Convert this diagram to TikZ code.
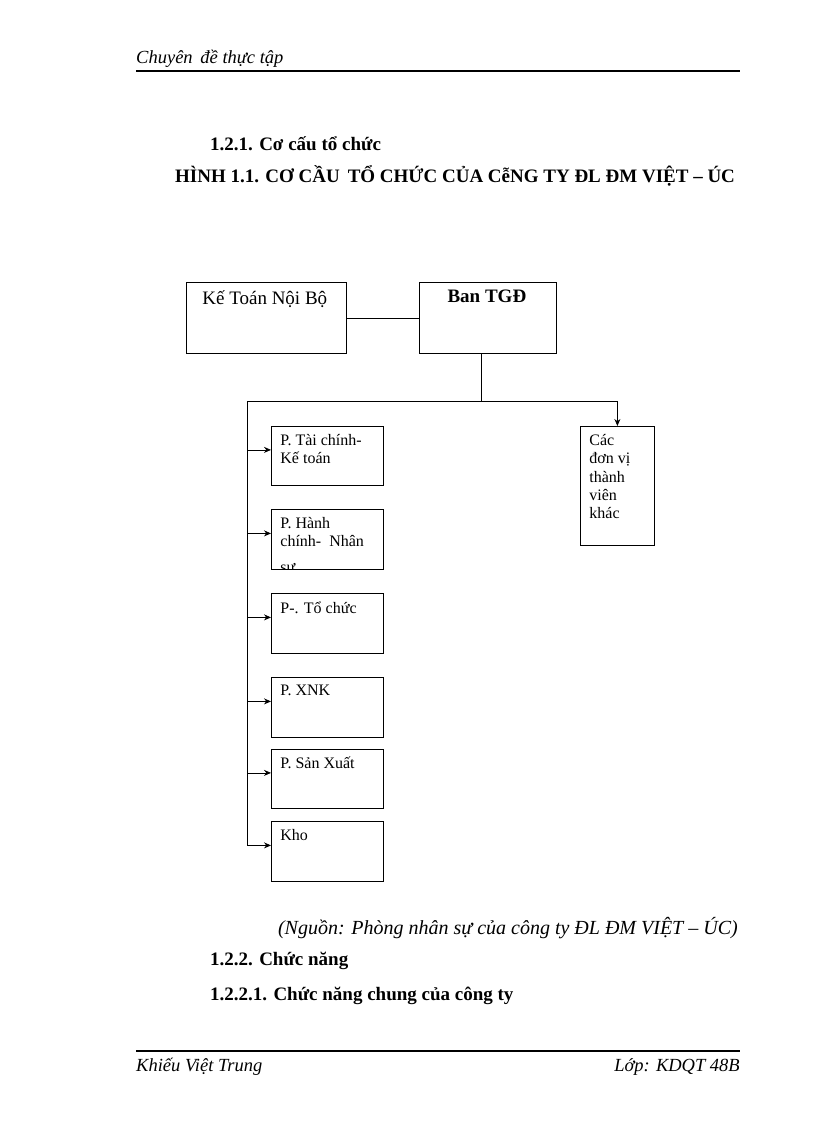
\documentclass[tikz,border=0pt]{standalone}
\usepackage{fontspec}
\setmainfont{Liberation Serif}
\usetikzlibrary{arrows.meta}

\tikzset{
  unitbox/.style={draw, line width=0.8pt, anchor=north west, inner sep=0pt, font=\fontsize{16}{18.3}\selectfont},
  topbox/.style={draw, line width=0.8pt, anchor=north west, inner sep=0pt, font=\fontsize{19}{22}\selectfont},
  heading/.style={anchor=base west, inner sep=0pt, font=\fontsize{19}{22}\selectfont\bfseries},
  pagetext/.style={inner sep=0pt, font=\fontsize{18.5}{22}\selectfont\itshape},
  arr/.style={-{Stealth[length=7pt,width=6pt]}, line width=0.8pt},
  link/.style={line width=0.8pt}
}
% box with text at its top left corner
\newcommand{\boxtext}[3]{\parbox[t][#2pt][t]{#1pt}{\hspace*{9pt}\parbox[t]{\dimexpr#1pt-11pt}{\vspace*{8pt}#3}}}

\begin{document}
\begin{tikzpicture}[x=1pt,y=-1pt]
    \useasboundingbox (0,0) rectangle (816,1123);

    % Header and footer
    \node[pagetext, anchor=base west] (hdr) at (136,64) {Chuyên\, đề thực tập};
    \draw[line width=2.2pt] (136,71) -- (740,71);
    \draw[line width=2.2pt] (136,1051) -- (740,1051);
    \node[pagetext, anchor=base west] (ftl) at (136,1071) {Khiếu Việt Trung};
    \node[pagetext, anchor=base east] (ftr) at (740,1071) {Lớp: KDQT 48B};

    % Titles
    \node[heading] (sec) at (210,151) {1.2.1. Cơ cấu tổ chức};
    \node[heading] (fig) at (175,183) {HÌNH 1.1. CƠ CẦU\, TỔ CHỨC CỦA CễNG TY ĐL ĐM VIỆT – ÚC};

    % Top level
    \node[topbox] (ktnb) at (186,282) {\boxtext{160}{71}{\hspace*{7pt}Kế Toán Nội Bộ}};
    \node[topbox] (tgd) at (419,282) {\boxtext{137}{71}{\centering\hspace*{-9pt}\bfseries Ban TGĐ}};
    \draw[link] (ktnb.east) -- (tgd.west);

    % Units
    \node[unitbox] (dv) at (580,426) {\boxtext{74}{119}{Các\\đơn vị\\thành\\viên\\khác}};
    \node[unitbox] (tckt) at (271,426) {\boxtext{112}{59}{P. Tài chính-\\Kế toán}};
    \begin{scope}
        \clip (269,507) rectangle (385,569.4);
        \node[unitbox] (hcns) at (271,509) {\boxtext{112}{60}{P. Hành\\chính-\ \ Nhân\\[7pt]sự}};
    \end{scope}
    \node[unitbox] (tc) at (271,593) {\boxtext{112}{60}{P-. Tổ chức}};
    \node[unitbox] (xnk) at (271,677) {\boxtext{112}{60}{P. XNK}};
    \node[unitbox] (sx) at (271,749) {\boxtext{112}{59}{P. Sản Xuất}};
    \node[unitbox] (kho) at (271,821) {\boxtext{112}{60}{Kho}};

    % Connectors
    \coordinate (drop) at ([xshift=-6.5pt]tgd.south);
    \coordinate (trunk) at (247,401);
    \draw[link] (drop) -- (drop |- trunk);
    \draw[arr] (trunk) -| (dv.north);
    \foreach \b [count=\i] in {tckt,hcns,tc,xnk,sx,kho}
        \coordinate (t\i) at ([yshift=6pt]\b.west);
    \draw[link] (trunk) -- (trunk |- t6);
    \foreach \i in {1,...,6}
        \draw[arr] (t\i -| trunk) -- (t\i);

    % Source and next sections
    \node[pagetext, anchor=base east, font=\fontsize{20}{24}\selectfont\itshape] (src) at (738,934) {(Nguồn: Phòng nhân sự của công ty ĐL ĐM VIỆT – ÚC)};
    \node[heading] (fn) at (210,965) {1.2.2. Chức năng};
    \node[heading] (fnc) at (210,1000) {1.2.2.1. Chức năng chung của công ty};
\end{tikzpicture}
\end{document}
